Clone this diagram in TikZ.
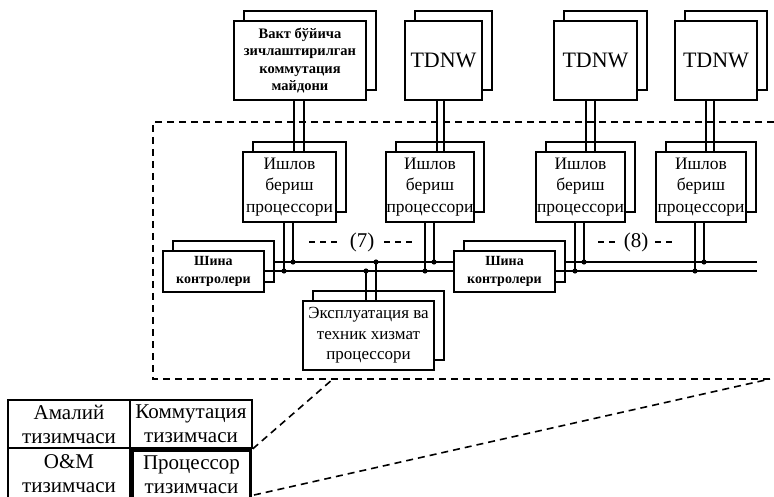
\documentclass[tikz,border=0pt]{standalone}
\usepackage{fontspec}
\setmainfont{Liberation Serif}
\usetikzlibrary{shadows}

\begin{document}
\begin{tikzpicture}[x=1pt,y=-1pt,
  unit/.style={draw, fill=white, line width=1.3pt, inner sep=0pt, align=center,
    general shadow={draw, fill=white, line width=1.3pt, shadow xshift=10pt, shadow yshift=10pt}},
  topunit/.style={unit, minimum height=79pt},
  iounit/.style={unit, minimum height=70pt, font=\fontsize{17.5}{21.5}\selectfont},
  busctl/.style={unit, minimum width=101pt, minimum height=41pt, font=\bfseries\fontsize{14}{18}\selectfont},
  cell/.style={draw, line width=1.6pt, inner sep=0pt, align=center, minimum width=122pt,
    font=\fontsize{21}{24}\selectfont},
  link/.style={line width=1.3pt},
  bus/.style={line width=1.6pt},
  frame/.style={line width=1.6pt, dash pattern=on 7pt off 5pt},
  gap/.style={line width=1.3pt, dash pattern=on 6pt off 5pt},
  tap/.style={fill, radius=2.6pt},
  tag/.style={inner sep=0pt, font=\fontsize{21}{22}\selectfont}
]
\useasboundingbox (0,0) rectangle (774,497);

% switching network and TDNW units
\node[topunit, minimum width=132pt, font=\bfseries\fontsize{14.5}{17.5}\selectfont] (swf) at (300,60.5)
  {Вакт бўйича\\зичлаштирилган\\коммутация\\майдони};
\node[topunit, minimum width=77pt, font=\fontsize{22}{24}\selectfont] (tdA) at (443.5,60.5) {TDNW};
\node[topunit, minimum width=83pt, font=\fontsize{22}{24}\selectfont] (tdB) at (595.5,60.5) {TDNW};
\node[topunit, minimum width=82pt, font=\fontsize{22}{24}\selectfont] (tdC) at (716,60.5) {TDNW};

% dashed frame of the processor subsystem
\coordinate (fTR) at (774,122);
\coordinate (fTL) at (153,122);
\coordinate (fBL) at (153,379);
\coordinate (fBR) at (770,379);
\coordinate (zA) at (333,379);
\draw[frame] (fTR) -- (fTL) -- (fBL) -- (fBR);

% I/O processors
\node[iounit, minimum width=93pt] (ioA) at (289.5,187) {Ишлов\\бериш\\процессори};
\node[iounit, minimum width=88pt] (ioB) at (430,187) {Ишлов\\бериш\\процессори};
\node[iounit, minimum width=89pt] (ioC) at (580.5,187) {Ишлов\\бериш\\процессори};
\node[iounit, minimum width=90pt] (ioD) at (701,187) {Ишлов\\бериш\\процессори};

% bus controllers
\node[busctl] (bcA) at (213.5,271.5) {Шина\\контролери};
\node[busctl] (bcB) at (504.5,271.5) {Шина\\контролери};

% O&M processor
\node[unit, minimum width=131pt, minimum height=69pt, font=\fontsize{17}{20.5}\selectfont] (omp) at (368.5,335.5)
  {Эксплуатация ва\\техник хизмат\\процессори};

% double links from the switching units down to the I/O processors
\foreach \u/\p/\xa/\xb in {swf/ioA/294/304, tdA/ioB/437/444, tdB/ioC/586/595, tdC/ioD/706/714}{
  \coordinate (ua) at (\xa,0);
  \coordinate (ub) at (\xb,0);
  \draw[link] (\u.south -| ua) -- (\p.north -| ua);
  \draw[link] (\u.south -| ub) -- (\p.north -| ub);
}

% bus tap points (lower and upper line)
\coordinate (jA1) at (284,271); \coordinate (jA2) at (293,262);
\coordinate (jB1) at (425,271); \coordinate (jB2) at (434,262);
\coordinate (jC1) at (575,271); \coordinate (jC2) at (584,262);
\coordinate (jD1) at (695,271); \coordinate (jD2) at (704,262);
\coordinate (jE1) at (366,271); \coordinate (jE2) at (376,262);
\coordinate (endL) at (757,271); \coordinate (endU) at (757,262);

% duplicated bus
\draw[bus] (bcA.east |- jA1) -- (bcB.west |- jA1);
\draw[bus] ([xshift=10pt]bcA.east |- jA2) -- (bcB.west |- jA2);
\draw[bus] (bcB.east |- jA1) -- (endL);
\draw[bus] ([xshift=10pt]bcB.east |- jA2) -- (endU);

% processor drops onto the bus
\foreach \p/\a/\b in {ioA/jA1/jA2, ioB/jB1/jB2, ioC/jC1/jC2, ioD/jD1/jD2}{
  \draw[link] (\p.south -| \a) -- (\a);
  \draw[link] (\p.south -| \b) -- (\b);
  \fill[tap] (\a) circle;
  \fill[tap] (\b) circle;
}
\draw[link] (omp.north -| jE1) -- (jE1);
\draw[link] (omp.north -| jE2) -- (jE2);
\fill[tap] (jE1) circle;
\fill[tap] (jE2) circle;

% bus group labels
\node[tag] (g7) at (362,242) {(7)};
\draw[gap] ([xshift=-13pt]g7.west) -- ([xshift=-43pt]g7.west);
\draw[gap] ([xshift=10pt]g7.east) -- ([xshift=40pt]g7.east);
\node[tag] (g8) at (636,242) {(8)};
\draw[gap] ([xshift=-9pt]g8.west) -- ([xshift=-30pt]g8.west);
\draw[gap] ([xshift=7pt]g8.east) -- ([xshift=27pt]g8.east);

% subsystem table
\node[cell, minimum height=48pt] (t11) at (69,424) {Амалий\\тизимчаси};
\node[cell, minimum height=48pt] (t12) at (191,424) {Коммутация\\тизимчаси};
\node[cell, minimum height=52pt] (t21) at (69,474) {O\&M\\тизимчаси};
\node[cell, minimum height=50pt, minimum width=118pt, line width=3.6pt] (t22) at (191.5,475) {Процессор\\тизимчаси};

% zoom lines from the processor cell to the frame
\coordinate (zC) at (254,495);
\draw[frame] (t12.south east) -- (zA);
\draw[frame] (zC) -- (fBR);
\end{tikzpicture}
\end{document}
